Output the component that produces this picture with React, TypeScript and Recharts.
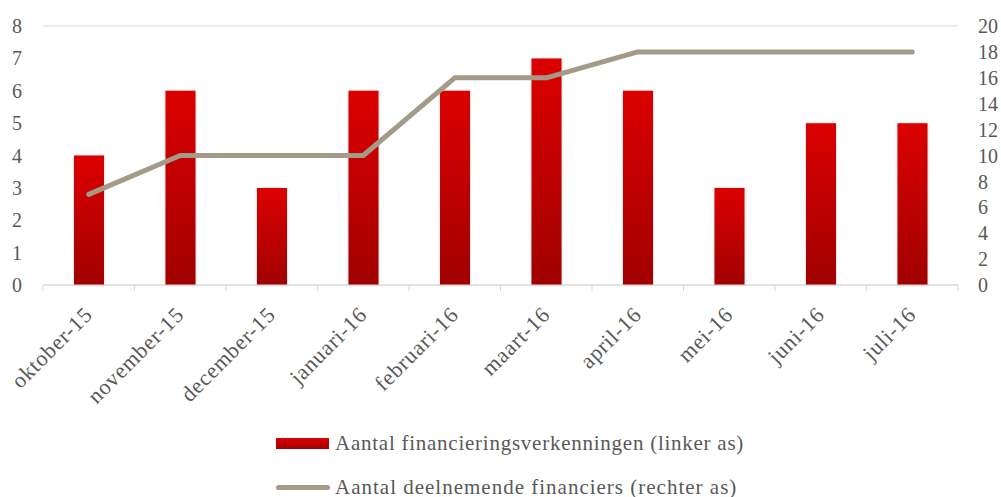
import React from 'react';
import { ComposedChart, Bar, Line, XAxis, YAxis, CartesianGrid, Legend } from 'recharts';

const categories = ['oktober-15', 'november-15', 'december-15', 'januari-16', 'februari-16', 'maart-16', 'april-16', 'mei-16', 'juni-16', 'juli-16'];
const verkenningen = [4, 6, 3, 6, 6, 7, 6, 3, 5, 5];
const financiers = [7, 10, 10, 10, 16, 16, 18, 18, 18, 18];
const leftTicks = [0, 1, 2, 3, 4, 5, 6, 7, 8];
const rightTicks = [0, 2, 4, 6, 8, 10, 12, 14, 16, 18, 20];

const barName = 'Aantal financieringsverkenningen (linker as)';
const lineName = 'Aantal deelnemende financiers (rechter as)';

const data = categories.map((c, i) => ({ name: c, bar: verkenningen[i], line: financiers[i] }));

const FONT = "'Liberation Serif', 'DejaVu Serif', serif";
const TEXT = '#595959';
const GRID = '#D9D9D9';
const LINE = '#A39A88';

const W = 1001;
const H = 497;
const PLOT_L = 43;
const PLOT_R = 958;
const BAND = (PLOT_R - PLOT_L) / categories.length;

const XTick = (props: any) => {
  const { x, y, payload, index } = props;
  const ax = x + 5;
  const ay = y + 23;
  return (
    <g>
      <line x1={x - BAND / 2} x2={x - BAND / 2} y1={y - 8} y2={y - 2} stroke={GRID} strokeWidth={1} />
      {index === categories.length - 1 && (
        <line x1={x + BAND / 2} x2={x + BAND / 2} y1={y - 8} y2={y - 2} stroke={GRID} strokeWidth={1} />
      )}
      <text x={ax} y={ay} textAnchor="end" fill={TEXT} fontFamily={FONT} fontSize={22} letterSpacing={0.8} transform={`rotate(-45, ${ax}, ${ay})`}>
        {payload.value}
      </text>
    </g>
  );
};

const LegendContent = () => (
  <div style={{ fontFamily: FONT, fontSize: 21, letterSpacing: 0.75, color: TEXT, position: 'relative', width: W, height: 70 }}>
    <div style={{ position: 'absolute', left: 276, top: 6, display: 'flex', alignItems: 'center', whiteSpace: 'nowrap' }}>
      <div style={{ width: 53, height: 11, background: 'linear-gradient(to bottom, #DA0000, #A30000)', marginRight: 6 }} />
      <span>{barName}</span>
    </div>
    <div style={{ position: 'absolute', left: 276, top: 50, display: 'flex', alignItems: 'center', whiteSpace: 'nowrap' }}>
      <div style={{ width: 54, height: 5, borderRadius: 3, background: LINE, marginRight: 5 }} />
      <span style={{ letterSpacing: 1 }}>{lineName}</span>
    </div>
  </div>
);

export default function App() {
  return (
    <div style={{ position: 'absolute', left: 0, top: 0, width: W, height: H, background: '#fff' }}>
      <ComposedChart width={W} height={H} data={data} margin={{ top: 26, right: 0, bottom: 0, left: 0 }} barCategoryGap={0}>
        <defs>
          <linearGradient id="barGrad" x1="0" y1="0" x2="0" y2="1">
            <stop offset="0%" stopColor="#DC0000" />
            <stop offset="100%" stopColor="#A00000" />
          </linearGradient>
          <filter id="barShadow" x="-20%" y="-5%" width="140%" height="110%">
            <feDropShadow dx="0" dy="0" stdDeviation="1.2" floodColor="#000" floodOpacity="0.25" />
          </filter>
        </defs>
        <CartesianGrid vertical={false} stroke={GRID} strokeWidth={1.2} />
        <XAxis
          dataKey="name"
          height={212}
          interval={0}
          axisLine={{ stroke: GRID, strokeWidth: 1.2 }}
          tickLine={false}
          tickSize={8}
          tickMargin={0}
          tick={<XTick />}
        />
        <YAxis
          yAxisId="left"
          orientation="left"
          width={PLOT_L}
          domain={[0, 8]}
          ticks={leftTicks}
          interval={0}
          axisLine={false}
          tickLine={false}
          tickSize={6}
          tickMargin={15}
          tick={{ fill: TEXT, fontFamily: FONT, fontSize: 20 }}
        />
        <YAxis
          yAxisId="right"
          orientation="right"
          width={W - PLOT_R}
          domain={[0, 20]}
          ticks={rightTicks}
          interval={0}
          axisLine={false}
          tickLine={false}
          tickSize={6}
          tickMargin={14}
          tick={{ fill: TEXT, fontFamily: FONT, fontSize: 20 }}
        />
        <Bar yAxisId="left" dataKey="bar" name={barName} barSize={30} fill="url(#barGrad)" filter="url(#barShadow)" isAnimationActive={false} />
        <Line yAxisId="right" type="linear" dataKey="line" name={lineName} stroke={LINE} strokeWidth={5} strokeLinecap="round" strokeLinejoin="round" dot={false} activeDot={false} isAnimationActive={false} />
        <Legend layout="vertical" align="center" verticalAlign="middle" content={<LegendContent />} wrapperStyle={{ position: 'absolute', top: 425, left: 0, width: W, height: 70 }} />
      </ComposedChart>
    </div>
  );
}
